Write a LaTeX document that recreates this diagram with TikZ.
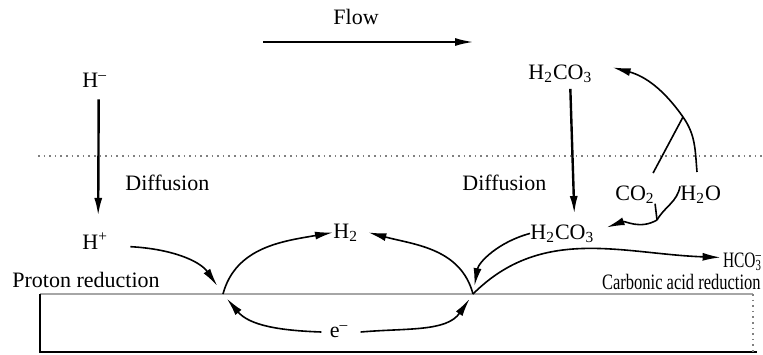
\documentclass[tikz,border=0pt]{standalone}
\usepackage{fontspec}
\setmainfont{Liberation Serif}
\usetikzlibrary{arrows.meta}

\tikzset{
    lbl/.style={inner sep=0pt, anchor=base west, font=\fontsize{11}{13}\selectfont},
    arr/.style={-{Latex[length=9pt,width=4pt]}, line width=0.8pt},
    vert/.style={arr, line width=1.2pt}
}

\begin{document}
\begin{tikzpicture}[x=0.5pt, y=-0.5pt]
    \useasboundingbox (0,0) rectangle (763,354);

    % electrode and boundary layer
    \draw[gray, dotted, line width=0.8pt] (38,156) -- (763,156);
    \draw[gray!70, line width=0.8pt] (40,294) -- (753,294);
    \draw[line width=1pt] (40,294) -- (40,352) -- (757,352);
    \draw[gray, dotted, line width=0.8pt] (753,294) -- (753,352);

    \node[lbl] (flow) at (333,24) {Flow};
    \node[lbl] (hminus) at (82,87) {H\textsuperscript{--}};
    \node[lbl] (hplus) at (82,249) {H\textsuperscript{+}};
    \node[lbl] (diffL) at (125,190) {Diffusion};
    \node[lbl] (diffR) at (462,190) {Diffusion};
    \node[lbl] (acidtop) at (528,79) {H\textsubscript{2}CO\textsubscript{3}};
    \node[lbl] (acidlow) at (530,239) {H\textsubscript{2}CO\textsubscript{3}};
    \node[lbl] (co2) at (615,200) {CO\textsubscript{2}};
    \node[lbl] (h2o) at (680,200) {H\textsubscript{2}O};
    \node[lbl, anchor=base east] (hco3) at (762,267) {\scalebox{0.7}[1]{HCO\rlap{\textsubscript{3}}\textsuperscript{--}}};
    \node[lbl] (h2) at (333,238) {H\textsubscript{2}};
    \node[lbl, anchor=center] (elec) at (339,332) {e\textsuperscript{--}};
    \node[lbl] (proton) at (12,287) {Proton reduction};
    \node[lbl, anchor=base east] (carbonic) at (761,289) {\scalebox{0.75}[1]{Carbonic acid reduction}};

    \coordinate (fs) at (263,42);
    \coordinate (fe) at (473,42);
    \coordinate (jl) at (223,294);
    \coordinate (jr) at (473,294);
    \coordinate (mrg) at (657,220);
    \coordinate (hook) at (697,172);
    \coordinate (jn) at (683,117);

    \draw[arr] (fs) -- (fe);

    % diffusion
    \draw[vert] ([xshift=2pt,yshift=-6pt]hminus.south) -- ([xshift=1.5pt,yshift=8pt]hplus.north);
    \draw[vert] ([xshift=5pt,yshift=-3pt]acidtop.south) -- ([xshift=6pt,yshift=5pt]acidlow.north);

    % proton reduction
    \draw[arr, shorten >=5pt] ([xshift=11pt,yshift=-3pt]hplus.east) to[out=-3, in=125] (jl);
    \draw[arr] (jl) to[out=75, in=190] (h2.west);
    \draw[arr, shorten >=3pt] ([xshift=-4pt]elec.west) to[out=178, in=-50] (jl);

    % carbonic acid reduction
    \draw[arr] (jr) to[out=105, in=-15] ([xshift=5pt]h2.east);
    \draw[arr, shorten >=4pt] (acidlow.west) to[out=195, in=80] (jr);
    \draw[arr] (jr) to[out=45, in=178] ([xshift=-1pt,yshift=2pt]hco3.west);
    \draw[arr, shorten >=3pt] ([xshift=6pt]elec.east) to[out=5, in=-125] (jr);

    % hydration
    \draw[line width=0.8pt] (co2.south east) -- (mrg);
    \draw[line width=0.8pt] ([yshift=4pt]h2o.west) to[out=-100, in=60] (mrg);
    \draw[arr] (mrg) to[out=-150, in=20] ([xshift=6pt,yshift=3pt]acidlow.east);
    \draw[arr] (hook) to[out=95, in=-55] (jn) to[out=125, in=-15] ([xshift=10pt,yshift=3pt]acidtop.east);
    \draw[line width=0.8pt] ([xshift=-1pt,yshift=6pt]co2.north east) -- (jn);
\end{tikzpicture}
\end{document}
